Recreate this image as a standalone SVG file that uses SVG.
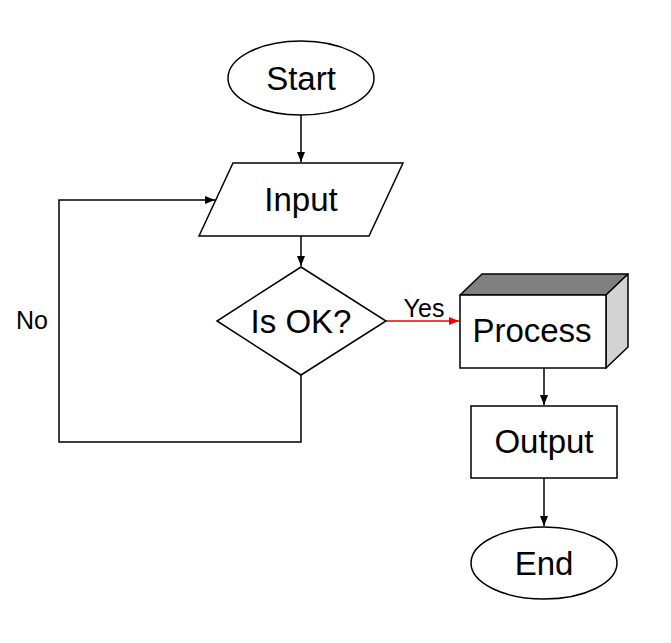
<svg xmlns="http://www.w3.org/2000/svg" width="671" height="643" viewBox="0 0 671 643">
<style>
.shape{fill:#fff;stroke:#000;stroke-width:1.5}
.lbl{font-family:"Liberation Sans",Arial,sans-serif;font-size:33px;fill:#000;text-anchor:middle}
.sm{font-family:"Liberation Sans",Arial,sans-serif;font-size:25px;fill:#000;text-anchor:middle}
.edge{fill:none;stroke:#000;stroke-width:1.5}
</style>
<defs>
<marker id="ah" viewBox="0 0 10 8" refX="10" refY="4" markerWidth="10" markerHeight="8" markerUnits="userSpaceOnUse" orient="auto">
<path d="M0,0 L10,4 L0,8 Z" fill="#000"/>
</marker>
<marker id="ahr" viewBox="0 0 10 8" refX="10" refY="4" markerWidth="10" markerHeight="8" markerUnits="userSpaceOnUse" orient="auto">
<path d="M0,0 L10,4 L0,8 Z" fill="#e00"/>
</marker>
</defs>
<rect width="671" height="643" fill="#fff"/>
<g id="edges">
<path class="edge" d="M301,115 V162" marker-end="url(#ah)"/>
<path class="edge" d="M301,236 V266" marker-end="url(#ah)"/>
<path d="M386,321 H459" fill="none" stroke="#e00" stroke-width="1.5" marker-end="url(#ahr)"/>
<text class="sm" x="424" y="317">Yes</text>
<path class="edge" d="M301,375 V442 H59 V200 H215" marker-end="url(#ah)"/>
<text class="sm" x="32" y="329">No</text>
<path class="edge" d="M544,368 V405" marker-end="url(#ah)"/>
<path class="edge" d="M544,478 V526" marker-end="url(#ah)"/>
</g>
<g id="start">
<ellipse class="shape" cx="301" cy="78" rx="73" ry="37"/>
<text class="lbl" x="301" y="90">Start</text>
</g>
<g id="input">
<polygon class="shape" points="233,163 403,163 369,236 199,236"/>
<text class="lbl" x="301" y="211">Input</text>
</g>
<g id="decision">
<polygon class="shape" points="301,267 386,321 301,375 217,321"/>
<text class="lbl" x="301" y="333">Is OK?</text>
</g>
<g id="process">
<polygon points="460,295 482,274 628,274 606,295" fill="#808080" stroke="#000" stroke-width="1.5" stroke-linejoin="round"/>
<polygon points="606,295 628,274 628,347 606,368" fill="#d3d3d3" stroke="#000" stroke-width="1.5" stroke-linejoin="round"/>
<rect class="shape" x="460" y="295" width="146" height="73"/>
<text class="lbl" x="532" y="342">Process</text>
</g>
<g id="output">
<rect class="shape" x="471" y="406" width="146" height="72"/>
<text class="lbl" x="544" y="453">Output</text>
</g>
<g id="end">
<ellipse class="shape" cx="544" cy="563" rx="73" ry="36"/>
<text class="lbl" x="544" y="575">End</text>
</g>
</svg>
